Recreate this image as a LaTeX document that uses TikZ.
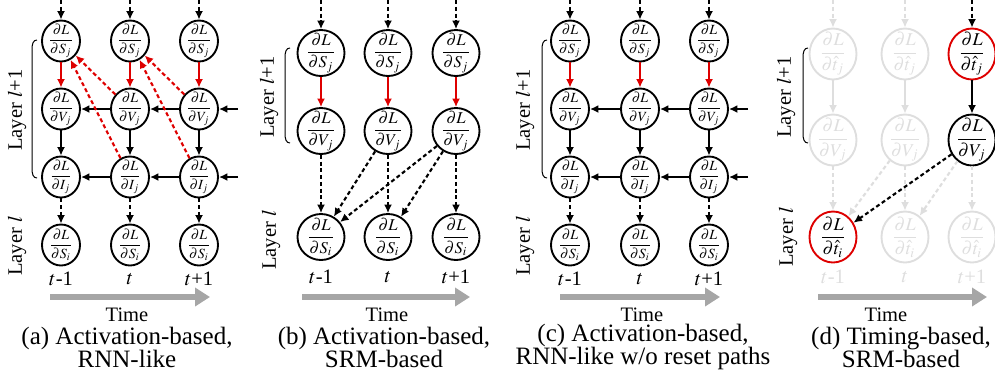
\documentclass[tikz,border=0pt]{standalone}
\usepackage{amsmath}
\usepackage{mathptmx}
\usepackage{fontspec}
\setmainfont{Liberation Serif}
\usetikzlibrary{shapes.geometric,arrows.meta}

\definecolor{gradred}{RGB}{222,0,0}
\definecolor{ghostgray}{RGB}{222,222,222}
\definecolor{timegray}{RGB}{166,166,166}

\tikzset{
    grad/.style={ellipse, draw, line width=0.75pt, inner sep=-10pt, fill=white},
    smallgrad/.style={grad, minimum width=15.2pt, minimum height=16.4pt, font=\fontsize{5.6}{6}\selectfont},
    biggrad/.style={grad, minimum width=18.8pt, minimum height=18.4pt, font=\fontsize{6.6}{7}\selectfont},
    timegrad/.style={grad, minimum width=18.8pt, minimum height=20.4pt, font=\fontsize{7.2}{8}\selectfont},
    ghost/.style={draw=ghostgray, text=ghostgray},
    redgrad/.style={draw=gradred},
    solidarr/.style={-{Latex[length=3.4pt,width=3.2pt]}, line width=0.85pt},
    dasharr/.style={solidarr, dash pattern=on 1.6pt off 1.1pt},
    redarr/.style={solidarr, draw=gradred},
    reddash/.style={dasharr, draw=gradred},
    ghostarr/.style={draw=ghostgray},
    brace/.style={line width=0.4pt},
    layerlabel/.style={rotate=90, font=\fontsize{8.2}{9}\selectfont},
    tlabel/.style={font=\fontsize{8.2}{9}\selectfont},
    timearrow/.style={draw=timegray, line width=2.6pt, -{Triangle[length=6pt,width=7.2pt]}},
    timelabel/.style={font=\fontsize{8.2}{9}\selectfont},
    caption/.style={align=center, font=\fontsize{10}{9.2}\selectfont}
}

\begin{document}
\begin{tikzpicture}[x=0.4pt,y=-0.4pt]
    \useasboundingbox (0,0) rectangle (995,388);

    % (a) Activation-based, RNN-like
    \foreach \x/\n/\lab in {61/1/$t$-1, 130/2/$t$, 199/3/$t$+1} {
        \coordinate (a-top-\n) at (\x,0);
        \node[smallgrad] (a-sj-\n) at (\x,41) {$\dfrac{\partial L}{\partial S_j}$};
        \node[smallgrad] (a-vj-\n) at (\x,109) {$\dfrac{\partial L}{\partial V_j}$};
        \node[smallgrad] (a-ij-\n) at (\x,177) {$\dfrac{\partial L}{\partial I_j}$};
        \node[smallgrad] (a-si-\n) at (\x,245) {$\dfrac{\partial L}{\partial S_i}$};
        \node[tlabel] (a-t-\n) at (\x,279) {\lab};
        \draw[dasharr] (a-top-\n) -- (a-sj-\n);
        \draw[redarr] (a-sj-\n) -- (a-vj-\n);
        \draw[solidarr] (a-vj-\n) -- (a-ij-\n);
        \draw[dasharr] (a-ij-\n) -- (a-si-\n);
    }
    \coordinate (a-inv) at (238,109);
    \coordinate (a-ini) at (238,177);
    \draw[solidarr] (a-inv) -- (a-vj-3);
    \draw[solidarr] (a-vj-3) -- (a-vj-2);
    \draw[solidarr] (a-vj-2) -- (a-vj-1);
    \draw[solidarr] (a-ini) -- (a-ij-3);
    \draw[solidarr] (a-ij-3) -- (a-ij-2);
    \draw[solidarr] (a-ij-2) -- (a-ij-1);
    \draw[reddash] (a-vj-2) -- (a-sj-1);
    \draw[reddash] (a-ij-2) -- (a-sj-1);
    \draw[reddash] (a-vj-3) -- (a-sj-2);
    \draw[reddash] (a-ij-3) -- (a-sj-2);
    \draw[brace] (37,40) .. controls (33,40) and (32,44) .. (32,50) -- (32,168) .. controls (32,174) and (33,178) .. (37,178);
    \node[layerlabel] (a-lay1) at (17,110) {Layer $l$+1};
    \node[layerlabel] (a-lay0) at (17,246) {Layer $l$};
    \draw[timearrow] (50,297) -- (210,297);
    \node[timelabel] (a-time) at (127,315) {Time};
    \node[caption] (a-cap) at (127,347) {(a) Activation-based,\\RNN-like};

    % (b) Activation-based, SRM-based
    \foreach \x/\n/\lab in {321/1/$t$-1, 388/2/$t$, 456/3/$t$+1} {
        \coordinate (b-top-\n) at (\x,0);
        \node[biggrad] (b-sj-\n) at (\x,53) {$\dfrac{\partial L}{\partial S_j}$};
        \node[biggrad] (b-vj-\n) at (\x,131) {$\dfrac{\partial L}{\partial V_j}$};
        \node[biggrad] (b-si-\n) at (\x,237) {$\dfrac{\partial L}{\partial S_i}$};
        \node[tlabel] (b-t-\n) at (\x,277) {\lab};
        \draw[dasharr] (b-top-\n) -- (b-sj-\n);
        \draw[redarr] (b-sj-\n) -- (b-vj-\n);
        \draw[dasharr] (b-vj-\n) -- (b-si-\n);
    }
    \draw[dasharr] (b-vj-2) -- (b-si-1);
    \draw[dasharr] (b-vj-3) -- (b-si-1);
    \draw[dasharr] (b-vj-3) -- (b-si-2);
    \draw[brace] (290,48) .. controls (286,48) and (285,52) .. (285,58) -- (285,133) .. controls (285,139) and (286,143) .. (290,143);
    \node[layerlabel] (b-lay1) at (269,97) {Layer $l$+1};
    \node[layerlabel] (b-lay0) at (271,240) {Layer $l$};
    \draw[timearrow] (302,297) -- (470,297);
    \node[timelabel] (b-time) at (387,315) {Time};
    \node[caption] (b-cap) at (384,347) {(b) Activation-based,\\SRM-based};

    % (c) Activation-based, RNN-like w/o reset paths
    \foreach \x/\n/\lab in {570/1/$t$-1, 640/2/$t$, 709/3/$t$+1} {
        \coordinate (c-top-\n) at (\x,0);
        \node[smallgrad] (c-sj-\n) at (\x,41) {$\dfrac{\partial L}{\partial S_j}$};
        \node[smallgrad] (c-vj-\n) at (\x,109) {$\dfrac{\partial L}{\partial V_j}$};
        \node[smallgrad] (c-ij-\n) at (\x,177) {$\dfrac{\partial L}{\partial I_j}$};
        \node[smallgrad] (c-si-\n) at (\x,245) {$\dfrac{\partial L}{\partial S_i}$};
        \node[tlabel] (c-t-\n) at (\x,279) {\lab};
        \draw[dasharr] (c-top-\n) -- (c-sj-\n);
        \draw[redarr] (c-sj-\n) -- (c-vj-\n);
        \draw[solidarr] (c-vj-\n) -- (c-ij-\n);
        \draw[dasharr] (c-ij-\n) -- (c-si-\n);
    }
    \coordinate (c-inv) at (748,109);
    \coordinate (c-ini) at (748,177);
    \draw[solidarr] (c-inv) -- (c-vj-3);
    \draw[solidarr] (c-vj-3) -- (c-vj-2);
    \draw[solidarr] (c-vj-2) -- (c-vj-1);
    \draw[solidarr] (c-ini) -- (c-ij-3);
    \draw[solidarr] (c-ij-3) -- (c-ij-2);
    \draw[solidarr] (c-ij-2) -- (c-ij-1);
    \draw[brace] (547,40) .. controls (543,40) and (542,44) .. (542,50) -- (542,168) .. controls (542,174) and (543,178) .. (547,178);
    \node[layerlabel] (c-lay1) at (525,110) {Layer $l$+1};
    \node[layerlabel] (c-lay0) at (525,246) {Layer $l$};
    \draw[timearrow] (560,297) -- (720,297);
    \node[timelabel] (c-time) at (642,315) {Time};
    \node[caption] (c-cap) at (643,347) {(c) Activation-based,\\RNN-like w/o reset paths};

    % (d) Timing-based, SRM-based
    \foreach \x/\n in {833/1, 905/2} {
        \coordinate (d-top-\n) at (\x,0);
        \node[timegrad, ghost] (d-tj-\n) at (\x,54) {$\dfrac{\partial L}{\partial\hat{t}_j}$};
        \node[timegrad, ghost] (d-vj-\n) at (\x,140) {$\dfrac{\partial L}{\partial V_j}$};
        \draw[dasharr, ghostarr] (d-top-\n) -- (d-tj-\n);
        \draw[solidarr, ghostarr] (d-tj-\n) -- (d-vj-\n);
    }
    \coordinate (d-top-3) at (972,0);
    \node[timegrad, redgrad] (d-tj-3) at (972,54) {$\dfrac{\partial L}{\partial\hat{t}_j}$};
    \node[timegrad] (d-vj-3) at (972,140) {$\dfrac{\partial L}{\partial V_j}$};
    \node[timegrad, redgrad] (d-ti-1) at (833,237) {$\dfrac{\partial L}{\partial\hat{t}_i}$};
    \node[timegrad, ghost] (d-ti-2) at (905,237) {$\dfrac{\partial L}{\partial\hat{t}_i}$};
    \node[timegrad, ghost] (d-ti-3) at (972,237) {$\dfrac{\partial L}{\partial\hat{t}_i}$};
    \foreach \x/\n/\lab in {833/1/$t$-1, 905/2/$t$, 972/3/$t$+1} {
        \node[tlabel, text=ghostgray] (d-t-\n) at (\x,277) {\lab};
        \draw[dasharr, ghostarr] (d-vj-\n) -- (d-ti-\n);
    }
    \draw[dasharr, ghostarr] (d-vj-2) -- (d-ti-1);
    \draw[dasharr, ghostarr] (d-vj-3) -- (d-ti-2);
    \draw[dasharr] (d-top-3) -- (d-tj-3);
    \draw[solidarr] (d-tj-3) -- (d-vj-3);
    \draw[dasharr] (d-vj-3) -- (d-ti-1);
    \draw[brace] (808,48) .. controls (804,48) and (803,52) .. (803,58) -- (803,133) .. controls (803,139) and (804,143) .. (808,143);
    \node[layerlabel] (d-lay1) at (786,97) {Layer $l$+1};
    \node[layerlabel] (d-lay0) at (788,237) {Layer $l$};
    \draw[timearrow] (818,297) -- (987,297);
    \node[timelabel] (d-time) at (886,315) {Time};
    \node[caption] (d-cap) at (901,347) {(d) Timing-based,\\SRM-based};
\end{tikzpicture}
\end{document}
